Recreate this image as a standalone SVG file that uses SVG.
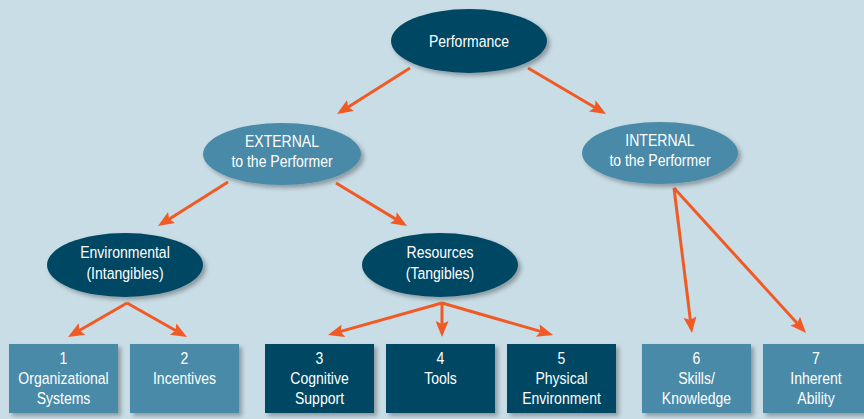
<svg xmlns="http://www.w3.org/2000/svg" width="864" height="419" viewBox="0 0 864 419">
<defs>
<style>
.t{font-family:"Liberation Sans",Arial,sans-serif;font-size:16.5px;fill:#ffffff;text-anchor:middle}
.dark{fill:#004764}
.mid{fill:#4a8aa8}
.c{stroke:#f15a24;stroke-width:3;fill:none;marker-end:url(#ah)}
</style>
<filter id="sh" x="-10%" y="-10%" width="125%" height="130%">
<feDropShadow dx="3" dy="3" stdDeviation="2" flood-color="#000" flood-opacity="0.3"/>
</filter>
<marker id="ah" markerUnits="userSpaceOnUse" markerWidth="16" markerHeight="13" viewBox="0 0 16 13" refX="12" refY="6.5" orient="auto">
<path d="M0,0 L16,6.5 L0,13 L3,6.5 z" fill="#f15a24"/>
</marker>
</defs>
<rect width="864" height="419" fill="#c9dde6"/>
<g id="connectors">
<line class="c" x1="410" y1="68" x2="340.4" y2="111.9"/>
<line class="c" x1="528" y1="68" x2="602.6" y2="112"/>
<line class="c" x1="228" y1="182" x2="161.4" y2="223.9"/>
<line class="c" x1="336" y1="183" x2="403.6" y2="223.9"/>
<line class="c" x1="674" y1="188" x2="691.5" y2="329"/>
<line class="c" x1="674" y1="188" x2="803.3" y2="330"/>
<line class="c" x1="127" y1="303" x2="71.5" y2="335"/>
<line class="c" x1="127" y1="303" x2="183.5" y2="335"/>
<line class="c" x1="442" y1="303" x2="331.9" y2="333.9"/>
<line class="c" x1="442" y1="303" x2="442" y2="333"/>
<line class="c" x1="442" y1="303" x2="549.2" y2="333.9"/>
</g>
<g id="performance">
<ellipse class="dark" cx="469" cy="41" rx="78" ry="32" filter="url(#sh)"/>
<text class="t" transform="translate(469,47) scale(0.85,1)">Performance</text>
</g>
<g id="external">
<ellipse class="mid" cx="282" cy="154" rx="79" ry="31" filter="url(#sh)"/>
<text class="t" transform="translate(282,147) scale(0.85,1)">EXTERNAL</text>
<text class="t" transform="translate(282,167) scale(0.85,1)">to the Performer</text>
</g>
<g id="internal">
<ellipse class="mid" cx="660" cy="153" rx="78" ry="31" filter="url(#sh)"/>
<text class="t" transform="translate(660,146) scale(0.85,1)">INTERNAL</text>
<text class="t" transform="translate(660,166) scale(0.85,1)">to the Performer</text>
</g>
<g id="environmental">
<ellipse class="dark" cx="125" cy="265" rx="78" ry="32" filter="url(#sh)"/>
<text class="t" transform="translate(125,258) scale(0.85,1)">Environmental</text>
<text class="t" transform="translate(125,279) scale(0.85,1)">(Intangibles)</text>
</g>
<g id="resources">
<ellipse class="dark" cx="440" cy="265" rx="78" ry="32" filter="url(#sh)"/>
<text class="t" transform="translate(440,258) scale(0.85,1)">Resources</text>
<text class="t" transform="translate(440,279) scale(0.85,1)">(Tangibles)</text>
</g>
<g id="box1">
<rect class="mid" x="9" y="344" width="109" height="69" filter="url(#sh)"/>
<text class="t" transform="translate(63.5,364) scale(0.85,1)">1</text>
<text class="t" transform="translate(63.5,384) scale(0.85,1)">Organizational</text>
<text class="t" transform="translate(63.5,404) scale(0.85,1)">Systems</text>
</g>
<g id="box2">
<rect class="mid" x="130" y="344" width="109" height="69" filter="url(#sh)"/>
<text class="t" transform="translate(184.5,364) scale(0.85,1)">2</text>
<text class="t" transform="translate(184.5,384) scale(0.85,1)">Incentives</text>
</g>
<g id="box3">
<rect class="dark" x="265" y="344" width="109" height="69" filter="url(#sh)"/>
<text class="t" transform="translate(319.5,364) scale(0.85,1)">3</text>
<text class="t" transform="translate(319.5,384) scale(0.85,1)">Cognitive</text>
<text class="t" transform="translate(319.5,404) scale(0.85,1)">Support</text>
</g>
<g id="box4">
<rect class="dark" x="386" y="344" width="109" height="69" filter="url(#sh)"/>
<text class="t" transform="translate(440.5,364) scale(0.85,1)">4</text>
<text class="t" transform="translate(440.5,384) scale(0.85,1)">Tools</text>
</g>
<g id="box5">
<rect class="dark" x="507" y="344" width="109" height="69" filter="url(#sh)"/>
<text class="t" transform="translate(561.5,364) scale(0.85,1)">5</text>
<text class="t" transform="translate(561.5,384) scale(0.85,1)">Physical</text>
<text class="t" transform="translate(561.5,404) scale(0.85,1)">Environment</text>
</g>
<g id="box6">
<rect class="mid" x="642" y="344" width="109" height="69" filter="url(#sh)"/>
<text class="t" transform="translate(696.5,364) scale(0.85,1)">6</text>
<text class="t" transform="translate(696.5,384) scale(0.85,1)">Skills/</text>
<text class="t" transform="translate(696.5,404) scale(0.85,1)">Knowledge</text>
</g>
<g id="box7">
<rect class="mid" x="763" y="344" width="109" height="69" filter="url(#sh)"/>
<text class="t" transform="translate(816,364) scale(0.85,1)">7</text>
<text class="t" transform="translate(816,384) scale(0.85,1)">Inherent</text>
<text class="t" transform="translate(816,404) scale(0.85,1)">Ability</text>
</g>
</svg>
